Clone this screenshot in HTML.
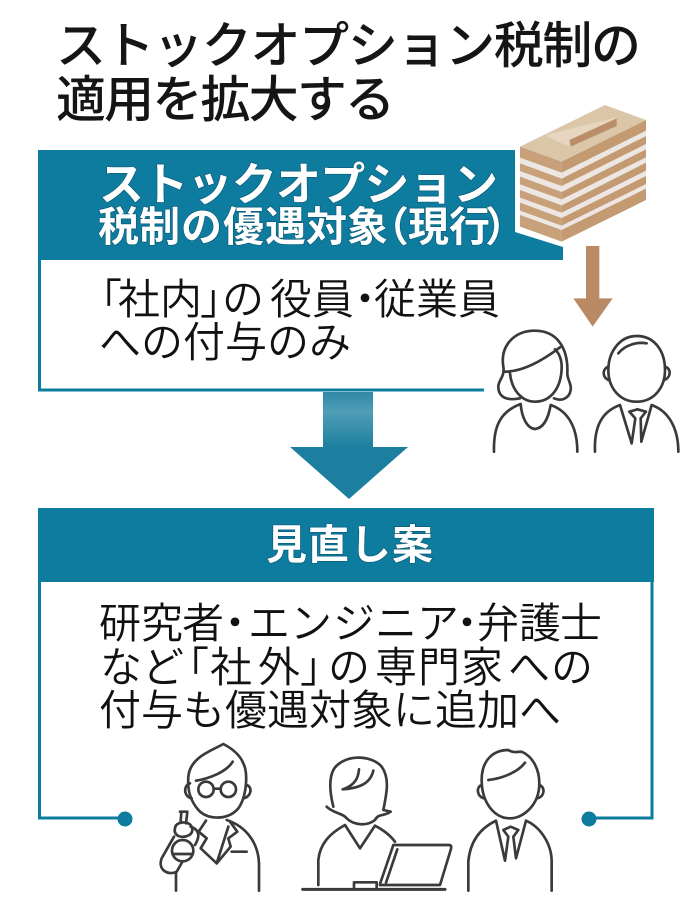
<!DOCTYPE html>
<html lang="ja"><head><meta charset="utf-8"><title>ストックオプション税制の適用を拡大する</title>
<style>
html,body{margin:0;padding:0;background:#fff}
svg{display:block}
text{font-family:"Liberation Sans","Noto Sans CJK JP",sans-serif}
.t{font-weight:500;font-size:50px;fill:#151515}
.h{font-weight:700;fill:#fff;stroke:#0a5f7c;stroke-width:1.500px;paint-order:stroke}
.b{font-family:"Noto Sans CJK JP",sans-serif;font-weight:350;font-size:42px;fill:#111}
.ic{fill:none;stroke:#3a3a38;stroke-width:8;stroke-linecap:round;stroke-linejoin:round}
</style></head><body>
<svg width="698" height="920" viewBox="0 0 698 920" xmlns="http://www.w3.org/2000/svg">
<defs><linearGradient id="g" x1="0" y1="0" x2="0" y2="1"><stop offset="0" stop-color="#2f88a6"/><stop offset=".35" stop-color="#4f9db6"/><stop offset="1" stop-color="#1d7f9f"/></linearGradient></defs>
<rect width="698" height="920" fill="#fff"/>

<!-- title -->
<text class="t" x="56" y="63" textLength="585">ストックオプション税制の</text>
<text class="t" x="56" y="117" textLength="339">適用を拡大する</text>

<!-- box 1 -->
<path d="M38 150H515V232L563 247V260H41V388.500H484V391.500H38Z" fill="#0e7c9e"/>
<text class="h" x="99" y="200" font-size="45" textLength="399">ストックオプション</text>
<text class="h" x="98 139 181 223 265 306 347 368 408 449 485" y="241" font-size="41">税制の優遇対象（現行）</text>
<text class="b" x="80 118 160 200 222 270 312 344 374 416 458" y="314">「社内」の役員・従業員</text>
<text class="b" x="99 141 183 225 267 309" y="357">への付与のみ</text>

<!-- big arrow -->
<rect x="323" y="392" width="50" height="56" fill="url(#g)"/>
<path d="M290 447H408L349 499Z" fill="#1d7f9f"/>

<!-- box 2 -->
<rect x="38" y="508" width="616" height="74" fill="#0e7c9e"/>
<text class="h" x="266" y="559" font-size="41" textLength="167">見直し案</text>
<path d="M39.500 582V818H125" fill="none" stroke="#0e7c9e" stroke-width="3"/>
<path d="M652 582V818H589" fill="none" stroke="#0e7c9e" stroke-width="3"/>
<circle cx="125" cy="819" r="7.500" fill="#0e7c9e"/>
<circle cx="589" cy="819" r="7.500" fill="#0e7c9e"/>
<text class="b" x="99 141 182 214 248 290 333 375 417 446 477 519 560" y="638">研究者・エンジニア・弁護士</text>
<text class="b" x="100 142 167 210 258 300 328 375 418 461 508 551" y="682">など「社外」の専門家への</text>
<text class="b" x="99 141 183 225 267 309 351 393 435 477 519" y="725">付与も優遇対象に追加へ</text>

<!-- upper icons: coordinates from 3x grid -->
<g transform="translate(480 90) scale(.33333)">
  <path d="M120 170L375 45L498 90L245 215Z" fill="#dcc6a8"/>
  <path d="M120 170L245 215V455L120 410Z" fill="#c8a079"/>
  <path d="M245 215L498 90V330L245 455Z" fill="#c49a72"/>
  <g fill="#ece7e2">
    <path d="M120 203L245 248V266L120 220Z"/><path d="M120 243L245 288V306L120 260Z"/><path d="M120 283L245 328V346L120 300Z"/><path d="M120 323L245 368V384L120 338Z"/><path d="M120 362L245 407V420L120 375Z"/>
    <path d="M245 248L498 122V138L245 266Z"/><path d="M245 288L498 162V178L245 306Z"/><path d="M245 328L498 202V218L245 346Z"/><path d="M245 368L498 242V258L245 384Z"/><path d="M245 407L498 282V296L245 420Z"/>
  </g>
  <path d="M195 135L410 82V108L272 170L245 160Z" fill="#e6d6bf"/>
  <path d="M268 150L410 85V108L272 170Z" fill="#b98e68"/>
  <path d="M318 468H358V625H398L338 710L280 625H318Z" fill="#b98a63"/>
  <g class="ic">
    <path d="M120 925C85 932 55 925 55 890C55 870 75 860 70 830C60 770 100 722 165 722C235 722 265 780 262 850C262 870 275 880 272 900C268 925 245 935 222 925"/>
    <path d="M90 850C95 900 125 935 165 935C215 935 245 890 245 830C245 810 238 790 225 778"/>
    <path d="M75 845C130 845 190 810 240 772"/>
    <path d="M42 1085C40 1010 60 965 122 942C125 980 140 1015 165 1017C190 1015 205 985 212 945C270 965 292 1020 292 1085"/>
    <path d="M385 840C385 785 420 738 470 738C525 738 555 785 555 840C555 895 520 935 470 935C420 935 385 895 385 840Z"/>
    <path d="M385 830C368 835 365 860 385 870M555 830C574 835 574 862 553 870"/>
    <path d="M415 790C435 765 470 755 500 760"/>
    <path d="M345 1085C342 1010 365 965 420 945L455 1060L466 985L448 965L472 958L498 965L482 985L484 1055L515 945C570 965 595 1020 595 1085"/>
  </g>
</g>

<!-- lower icons -->
<g transform="translate(100 730) scale(.33333)">
  <g class="ic" stroke-width="8">
    <path d="M370 42C340 60 270 80 265 140C262 180 270 215 300 245C330 270 385 270 415 235C440 200 445 130 430 100C420 75 395 55 370 42Z"/>
    <path d="M270 160C250 165 250 200 275 205M440 165C458 170 455 200 430 205"/>
    <path d="M288 152C330 145 380 125 398 95"/>
    <circle cx="318" cy="178" r="23"/><circle cx="385" cy="178" r="23"/><path d="M341 176H362"/>
    <path d="M380 270C440 290 475 340 477 400V482"/>
    <path d="M318 272L296 305L320 325L302 355L350 400L392 350L385 325L412 305L390 275"/>
    <path d="M395 365H440M350 400L385 290"/>
    <path d="M240 245H262L258 280M244 245L242 275"/>
    <path d="M225 295C225 275 265 270 275 290C285 315 255 325 235 318C225 312 222 305 225 295Z"/>
    <path d="M272 290C300 300 300 320 285 345"/>
    <circle cx="248" cy="362" r="32"/><path d="M220 372H276"/>
    <path d="M222 320L185 385C172 420 205 438 230 425L248 394"/>
    <path d="M228 430V482"/>

    <path d="M700 230C690 190 685 150 700 120C725 75 810 70 845 110C870 145 860 190 850 240L872 245C850 260 835 250 825 270C800 290 760 285 740 265C730 250 700 250 680 230"/>
    <path d="M777 118C775 140 768 165 728 178C770 175 810 165 820 122"/>
    <path d="M655 465V390C660 340 690 310 735 285L780 355L825 287C850 300 870 315 885 335"/>
    <path d="M840 462L880 345H1045C1055 345 1055 350 1052 360L1020 465H840"/>
    <path d="M858 458L892 358"/>
    <path d="M608 478H1035" stroke-width="9"/>
    <path d="M762 472V457H830V472"/>

    <path d="M1145 150C1145 90 1180 60 1225 60C1240 70 1250 65 1265 65C1300 80 1318 120 1318 160C1318 225 1270 265 1230 265C1185 265 1145 220 1145 150Z"/>
    <path d="M1145 165C1128 170 1130 200 1152 205M1318 165C1336 170 1335 200 1312 205"/>
    <path d="M1165 150C1210 145 1255 125 1275 98"/>
    <path d="M1105 482V395C1110 335 1140 295 1188 272L1215 392L1225 320L1210 300L1232 290L1255 300L1240 320L1248 385L1278 272C1320 290 1355 340 1355 395V482"/>
  </g>
</g>
</svg>
</body></html>
